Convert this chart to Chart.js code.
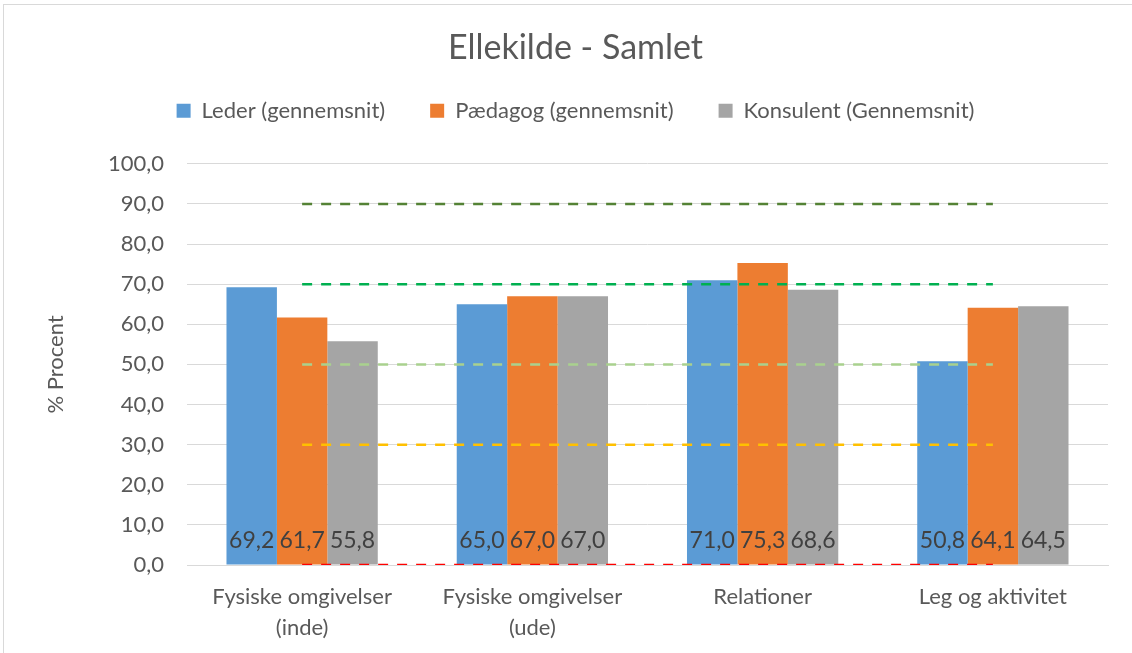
<!DOCTYPE html>
<html>
<head>
<meta charset="utf-8">
<script src="https://cdn.jsdelivr.net/npm/chart.js@4.4.1/dist/chart.umd.min.js"></script>
<style>
  html, body { margin: 0; padding: 0; background: #fff; }
  #wrap { position: relative; width: 1132px; height: 653px; overflow: hidden; }
  #frame { position: absolute; left: 3px; top: 4px; width: 1200px; height: 700px; border: 1px solid #d9d9d9; box-sizing: border-box; }
  #chart { position: absolute; left: 0; top: 0; }
</style>
</head>
<body>
<div id="wrap">
  <div id="frame"></div>
  <canvas id="chart" width="1132" height="653"></canvas>
</div>
<script>
// data
var categories = [["Fysiske omgivelser", "(inde)"], ["Fysiske omgivelser", "(ude)"], "Relationer", "Leg og aktivitet"];
var leder = [69.2, 65.0, 71.0, 50.8];
var paedagog = [61.7, 67.0, 75.3, 64.1];
var konsulent = [55.8, 67.0, 68.6, 64.5];
var seriesNames = ["Leder (gennemsnit)", "Pædagog (gennemsnit)", "Konsulent (Gennemsnit)"];
var seriesColors = ["#5b9bd5", "#ed7d31", "#a5a5a5"];

// reference levels drawn as dashed lines
var levels = [0, 30, 50, 70, 90];
var levelColors = ["#ff0000", "#ffc000", "#a9d18e", "#00b050", "#548235"];

var FONT = "Lato, 'Open Sans', sans-serif";

function fmt(v){
    return v.toFixed(1).replace('.', ',');
}

// value labels near the bottom of each bar
var barLabels = {
    id: 'barLabels',
    afterDatasetsDraw: function(chart){
        var ctx = chart.ctx;
        ctx.save();
        ctx.font = "23px " + FONT;
        ctx.fillStyle = "#404040";
        ctx.textAlign = "center";
        ctx.textBaseline = "middle";
        chart.data.datasets.forEach(function(ds, i){
            if (ds.type !== 'bar') return;
            var meta = chart.getDatasetMeta(i);
            meta.data.forEach(function(bar, j){
                ctx.fillText(fmt(ds.data[j]), bar.x, bar.base - 24);
            });
        });
        ctx.restore();
    }
};

// extra room under the legend
var legendGap = {
    id: 'legendGap',
    beforeInit: function(chart){
        var fit = chart.legend.fit;
        chart.legend.fit = function(){
            fit.apply(this, arguments);
            this.height += 32;
        };
    }
};

function buildDatasets(){
    var sets = [];
    [leder, paedagog, konsulent].forEach(function(vals, i){
        sets.push({
            type: 'bar',
            label: seriesNames[i],
            data: vals,
            backgroundColor: seriesColors[i],
            borderWidth: 0,
            order: 2
        });
    });
    levels.forEach(function(lv, i){
        sets.push({
            type: 'line',
            label: 'level' + lv,
            data: categories.map(function(){ return lv; }),
            borderColor: levelColors[i],
            borderWidth: 2.5,
            borderDash: [10, 9],
            pointRadius: 0,
            fill: false,
            order: 1
        });
    });
    return sets;
}

new Chart(document.getElementById("chart"), {
    type: 'bar',
    data: {
        labels: categories,
        datasets: buildDatasets()
    },
    plugins: [barLabels, legendGap],
    options: {
        responsive: false,
        animation: false,
        categoryPercentage: 0.657,
        barPercentage: 1,
        layout: { padding: { top: 10, left: 43, right: 24, bottom: 0 } },
        plugins: {
            title: {
                display: true,
                text: "Ellekilde - Samlet",
                color: "#595959",
                font: { family: FONT, size: 34, weight: 'normal' },
                padding: { top: 18, bottom: -14 }
            },
            legend: {
                display: true,
                labels: {
                    filter: function(item){ return item.datasetIndex < 3; },
                    color: "#595959",
                    font: { family: FONT, size: 22 },
                    boxWidth: 14,
                    boxHeight: 14,
                    padding: 45
                }
            },
            tooltip: { enabled: false }
        },
        scales: {
            x: {
                grid: { display: false },
                border: { color: "#d9d9d9", width: 1 },
                ticks: {
                    color: "#595959",
                    font: { family: FONT, size: 22, lineHeight: 1.4 },
                    maxRotation: 0,
                    padding: 9
                },
                afterFit: function(scale){ scale.height = 88; }
            },
            y: {
                min: 0,
                max: 100,
                border: { display: false },
                grid: { color: "#d9d9d9", lineWidth: 1, drawTicks: false },
                ticks: {
                    stepSize: 10,
                    color: "#595959",
                    font: { family: FONT, size: 22 },
                    padding: 23,
                    callback: function(v){ return fmt(v); }
                },
                title: {
                    display: true,
                    text: "% Procent",
                    color: "#595959",
                    font: { family: FONT, size: 22 },
                    padding: 0
                },
                afterFit: function(scale){ scale.width = 144; }
            }
        }
    }
});
</script>
</body>
</html>
